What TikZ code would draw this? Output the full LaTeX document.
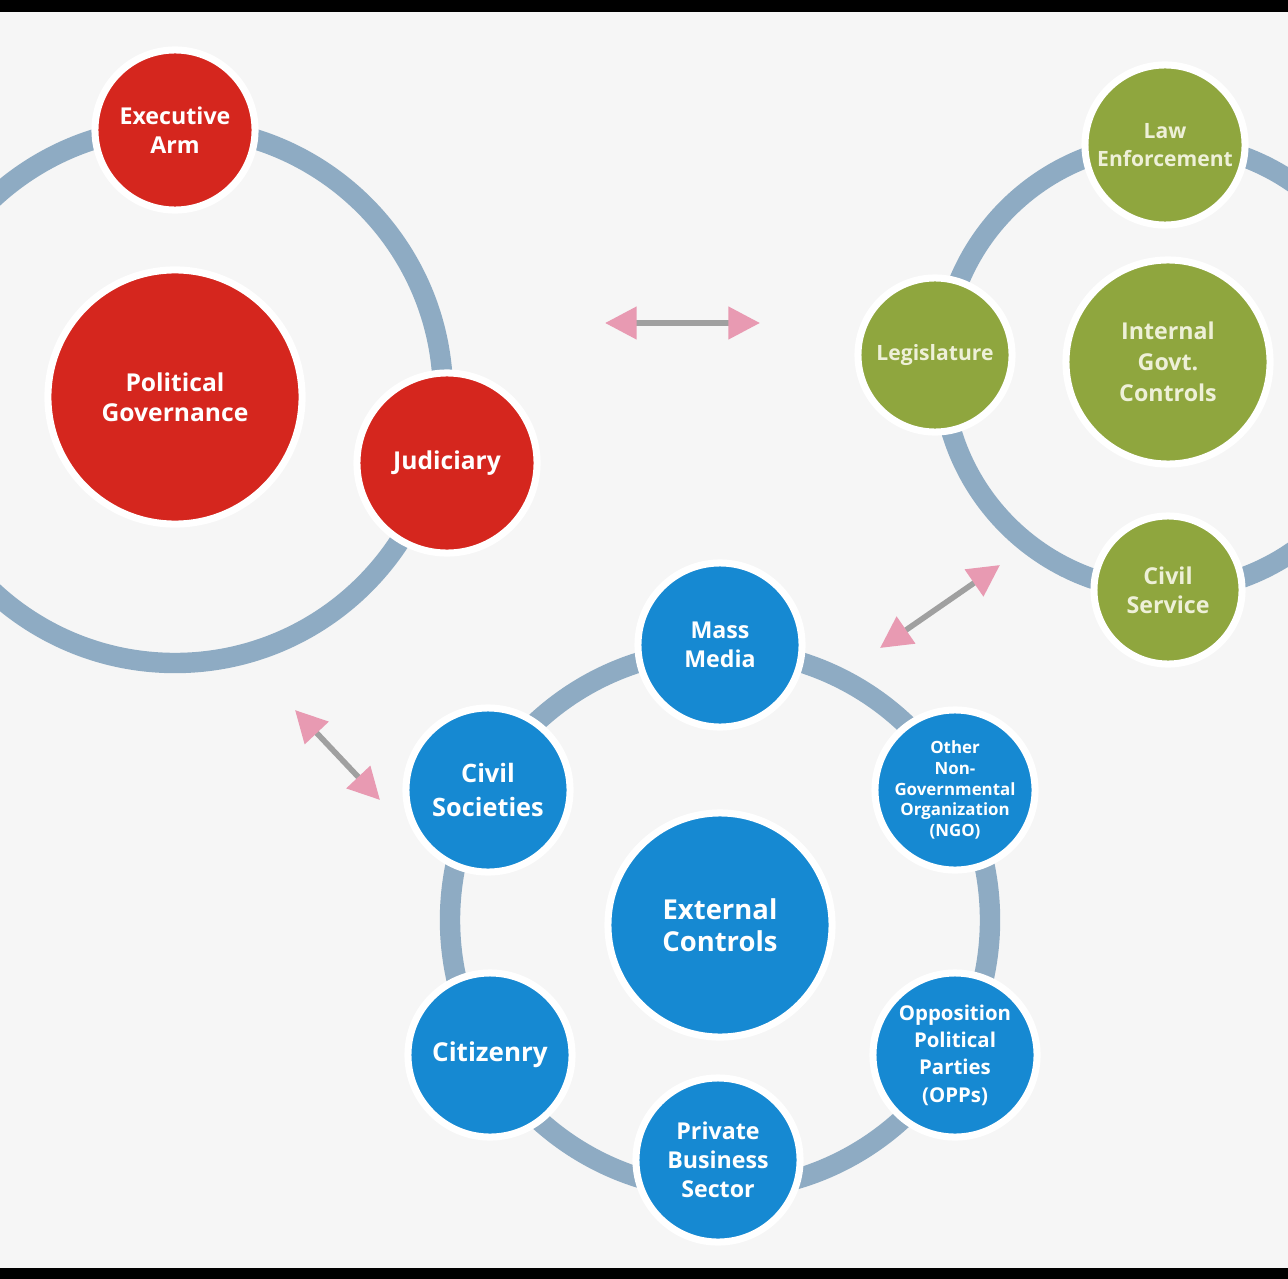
\documentclass[tikz,border=0pt]{standalone}
\usepackage{fontspec}
\setmainfont{Open Sans}
\usetikzlibrary{arrows.meta}
\definecolor{bgc}{HTML}{F6F6F6}
\definecolor{redc}{HTML}{D5261E}
\definecolor{greenc}{HTML}{8FA63E}
\definecolor{bluec}{HTML}{1689D2}
\definecolor{ringc}{HTML}{8EABC3}
\definecolor{pinkc}{HTML}{E89AB2}
\definecolor{arrowline}{HTML}{A0A0A0}
\definecolor{greentext}{HTML}{EEF0D8}
\tikzset{
  bubble/.style={circle, draw=white, line width=2pt, inner sep=0pt, align=center,
    font=\bfseries\fontsize{6.6}{8.2}\selectfont, text=white},
  redb/.style={bubble, fill=redc},
  greenb/.style={bubble, fill=greenc, text=greentext},
  blueb/.style={bubble, fill=bluec},
  ring/.style={draw=ringc, line width=5.8pt},
  twoway/.style={draw=arrowline, line width=1.6pt,
    {Triangle[length=9pt,width=9pt,color=pinkc,fill=pinkc]}-{Triangle[length=9pt,width=9pt,color=pinkc,fill=pinkc]}}
}
\begin{document}
\begin{tikzpicture}[x=0.01cm,y=-0.01cm]
\useasboundingbox (0,0) rectangle (1288,1279);
\fill[bgc] (0,0) rectangle (1288,1279);
\fill[black] (0,0) rectangle (1288,12);
\fill[black] (0,1268) rectangle (1288,1279);

% ring centres
\coordinate (rc) at (175,395);
\coordinate (gc) at (1166,367);
\coordinate (bc) at (720,920);

\begin{scope}
\clip (0,12) rectangle (1288,1268);
\draw[ring] (rc) circle[radius=268];
\draw[ring] (gc) circle[radius=224];
\draw[ring] (bc) circle[radius=270];
\end{scope}

% red group
\node[redb, minimum size=1.6cm] (exec) at (175,130) {Executive\\Arm};
\node[redb, minimum size=2.54cm, font=\bfseries\fontsize{7}{8.6}\selectfont] (polgov) at (175,397) {Political\\Governance};
\node[redb, minimum size=1.8cm, font=\bfseries\fontsize{7}{9}\selectfont] (jud) at (447,463) {Judiciary};

% green group
\node[greenb, minimum size=1.6cm, font=\bfseries\fontsize{6}{8.2}\selectfont] (law) at (1165,145) {Law\\Enforcement};
\node[greenb, minimum size=1.54cm, font=\bfseries\fontsize{6}{8}\selectfont] (legis) at (935,355) {Legislature};
\node[greenb, minimum size=2.04cm, font=\bfseries\fontsize{6.6}{8.8}\selectfont] (internal) at (1168,362) {Internal\\Govt.\\Controls};
\node[greenb, minimum size=1.48cm] (civserv) at (1168,590) {Civil\\Service};

% blue group
\node[blueb, minimum size=1.64cm] (media) at (720,645) {Mass\\Media};
\node[blueb, minimum size=1.6cm, font=\bfseries\fontsize{4.8}{5.9}\selectfont] (ngo) at (955,790) {Other\\Non-\\Governmental\\Organization\\(NGO)};
\node[blueb, minimum size=1.64cm, font=\bfseries\fontsize{5.8}{7.8}\selectfont] (opp) at (955,1055) {Opposition\\Political\\Parties\\(OPPs)};
\node[blueb, minimum size=1.64cm, font=\bfseries\fontsize{6.6}{8.2}\selectfont] (priv) at (718,1160) {Private\\Business\\Sector};
\node[blueb, minimum size=1.64cm, font=\bfseries\fontsize{7.4}{9}\selectfont] (citz) at (490,1055) {Citizenry};
\node[blueb, minimum size=1.64cm, font=\bfseries\fontsize{7.2}{9.6}\selectfont] (civsoc) at (488,790) {Civil\\Societies};
\node[blueb, minimum size=2.24cm, font=\bfseries\fontsize{7.8}{9.2}\selectfont] (ext) at (720,925) {External\\Controls};

% two-way arrows
\coordinate (a1s) at (605,323);
\coordinate (a1e) at (760,323);
\coordinate (a2s) at (880,648);
\coordinate (a2e) at (1000,565);
\coordinate (a3s) at (295,710);
\coordinate (a3e) at (380,800);
\draw[twoway] (a1s) -- (a1e);
\draw[twoway] (a2s) -- (a2e);
\draw[twoway] (a3s) -- (a3e);
\end{tikzpicture}
\end{document}
